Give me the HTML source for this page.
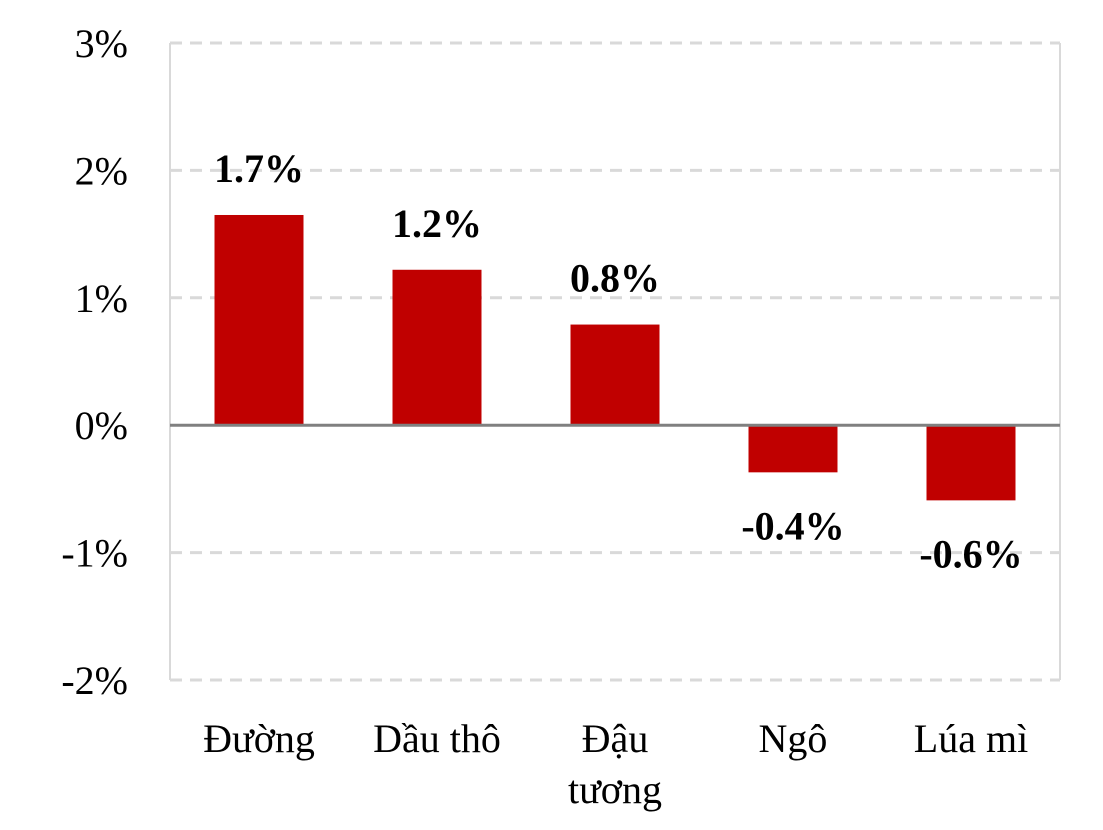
<!DOCTYPE html>
<html><head><meta charset="utf-8"><style>
html,body{margin:0;padding:0;background:#fff;}
svg text{font-family:"Liberation Serif",serif;}
</style></head><body>
<svg id="chart" width="1103" height="825" xmlns="http://www.w3.org/2000/svg"></svg>
<script>
const categories = [["Đường"], ["Dầu thô"], ["Đậu", "tương"], ["Ngô"], ["Lúa mì"]];
const values = [1.65, 1.22, 0.79, -0.37, -0.59];
const valueLabels = ["1.7%", "1.2%", "0.8%", "-0.4%", "-0.6%"];
const yTicks = [3, 2, 1, 0, -1, -2];
const yTickLabels = ["3%", "2%", "1%", "0%", "-1%", "-2%"];

const NS = "http://www.w3.org/2000/svg";
const svg = document.getElementById("chart");
const L = 170, R = 1060, T = 43, B = 680, yMax = 3, yMin = -2;
const y = v => T + (yMax - v) / (yMax - yMin) * (B - T);
const band = (R - L) / categories.length;
const xc = i => L + band * (i + 0.5);
function mk(tag, attrs) { const e = document.createElementNS(NS, tag); for (const k in attrs) e.setAttribute(k, attrs[k]); svg.appendChild(e); return e; }

let e = mk("line", {x1: L, y1: T, x2: L, y2: B, stroke: "#d9d9d9", "stroke-width": 2});


e = mk("line", {x1: R, y1: T, x2: R, y2: B, stroke: "#d9d9d9", "stroke-width": 2});



yTicks.forEach((t, i) => {
  if (t !== 0) {
    const g = mk("line", {x1: L, y1: y(t), x2: R, y2: y(t), stroke: "#d9d9d9", "stroke-width": 3, "stroke-dasharray": "12,8"});
    
    
  }
  const lb = mk("text", {x: 128, y: y(t) + 14, "text-anchor": "end", "font-size": 40, fill: "#000"});
  lb.textContent = yTickLabels[i];
  
  
});

values.forEach((v, i) => {
  const bw = band / 2;
  const top = Math.min(y(v), y(0)), h = Math.abs(y(v) - y(0));
  const b = mk("rect", {x: xc(i) - bw / 2, y: top, width: bw, height: h, fill: "#c00000"});
  
  
  const vl = mk("text", {x: xc(i), y: v >= 0 ? y(v) - 33 : y(v) + 67, "text-anchor": "middle", "font-size": 40, "font-weight": "bold", fill: "#000"});
  vl.textContent = valueLabels[i];
  
  
  categories[i].forEach((line, j) => {
    const cl = mk("text", {x: xc(i), y: 752 + j * 51, "text-anchor": "middle", "font-size": 40, fill: "#000"});
    cl.textContent = line;
    
    
  });
});

e = mk("line", {x1: L, y1: y(0), x2: R, y2: y(0), stroke: "#808080", "stroke-width": 3});


</script>
</body></html>
